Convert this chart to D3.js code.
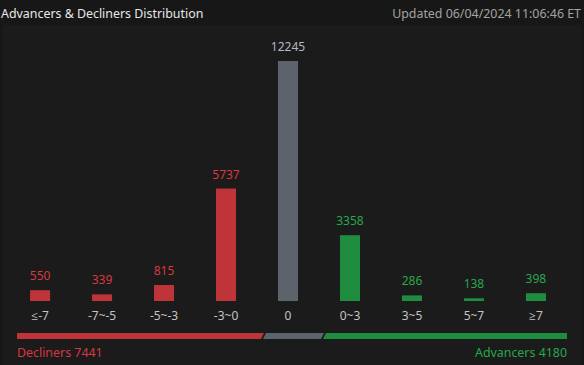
<!DOCTYPE html>
<html>
<head>
<meta charset="utf-8">
<script src="https://cdn.jsdelivr.net/npm/d3@7"></script>
<style>
  html, body { margin: 0; padding: 0; background: #171717; }
  svg { display: block; font-family: "Noto Sans", "Open Sans", sans-serif; }
</style>
</head>
<body>
<div id="chart"></div>
<script>
// data
const categories = ["≤-7", "-7~-5", "-5~-3", "-3~0", "0", "0~3", "3~5", "5~7", "≥7"];
const counts = [550, 339, 815, 5737, 12245, 3358, 286, 138, 398];
const groups = ["down", "down", "down", "down", "flat", "up", "up", "up", "up"];
const summaryLabels = ["Decliners", "Unchanged", "Advancers"];
const summaryCounts = [7441, 12245, 4180];
const title = "Advancers & Decliners Distribution";
const updated = "Updated 06/04/2024 11:06:46 ET";

const colors = {down: "#bf3438", flat: "#5d636d", up: "#1f8d3f"};
const textColors = {down: "#d9383f", flat: "#b4b8bf", up: "#27a84b"};

const W = 584, H = 365;
const svg = d3.select("#chart").append("svg")
  .attr("width", W).attr("height", H);

// panel
svg.append("rect")
  .attr("x", 3).attr("y", 25).attr("width", 578).attr("height", H - 25)
  .attr("fill", "#1b1b1b");

// header
svg.append("text")
  .attr("x", 1).attr("y", 18)
  .attr("fill", "#e8e8e8").attr("font-size", 12.4)
  .text(title);
svg.append("text")
  .attr("x", 581).attr("y", 18)
  .attr("text-anchor", "end")
  .attr("fill", "#a3a3a3").attr("font-size", 12.4)
  .text(updated);

// bars
const x = d3.scaleBand()
  .domain(categories)
  .range([9, 567])
  .paddingInner(0.677)
  .paddingOuter(0.34);

const y = d3.scaleLinear()
  .domain([0, d3.max(counts)])
  .range([301, 61]);

const data = categories.map((c, i) => ({cat: c, value: counts[i], group: groups[i]}));

svg.append("g").selectAll("rect")
  .data(data)
  .join("rect")
  .attr("x", d => x(d.cat))
  .attr("y", d => y(d.value))
  .attr("width", x.bandwidth())
  .attr("height", d => y(0) - y(d.value))
  .attr("fill", d => colors[d.group]);

svg.append("g").selectAll("text")
  .data(data)
  .join("text")
  .attr("x", d => x(d.cat) + x.bandwidth() / 2)
  .attr("y", d => y(d.value) - 10)
  .attr("text-anchor", "middle")
  .attr("font-size", 12)
  .attr("fill", d => textColors[d.group])
  .text(d => d.value);

// category axis
const axis = svg.append("g")
  .attr("transform", "translate(0,301)")
  .call(d3.axisBottom(x).tickSize(0).tickPadding(10));
axis.select(".domain").remove();
axis.selectAll("text")
  .attr("font-size", 12)
  .attr("fill", "#c4c4c4")
  .attr("font-family", "\"Noto Sans\", \"Open Sans\", sans-serif");

// summary bar: grey part kept narrow, red / green share the rest
const sx0 = 17, sx1 = 567, sy = 333, sh = 6, gap = 2, slant = 3;
const flatW = 58;
const sideW = (sx1 - sx0 - flatW - 2 * gap) / 2;
const segs = [
  {key: "down", x0: sx0, x1: sx0 + sideW},
  {key: "flat", x0: sx0 + sideW + gap, x1: sx0 + sideW + gap + flatW},
  {key: "up", x0: sx0 + sideW + 2 * gap + flatW, x1: sx1}
];
svg.append("g").selectAll("path")
  .data(segs)
  .join("path")
  .attr("d", (d, i) => {
    const lt = i === 0 ? d.x0 : d.x0 + slant;
    const lb = d.x0;
    const rt = i === 2 ? d.x1 : d.x1 + slant;
    const rb = d.x1;
    return `M${lt},${sy}L${rt},${sy}L${rb},${sy + sh}L${lb},${sy + sh}Z`;
  })
  .attr("fill", d => colors[d.key]);

svg.append("text")
  .attr("x", sx0).attr("y", 357)
  .attr("fill", textColors.down).attr("font-size", 12.4)
  .text(summaryLabels[0] + " " + summaryCounts[0]);
svg.append("text")
  .attr("x", sx1).attr("y", 357)
  .attr("text-anchor", "end")
  .attr("fill", textColors.up).attr("font-size", 12.4)
  .text(summaryLabels[2] + " " + summaryCounts[2]);
</script>
</body>
</html>
